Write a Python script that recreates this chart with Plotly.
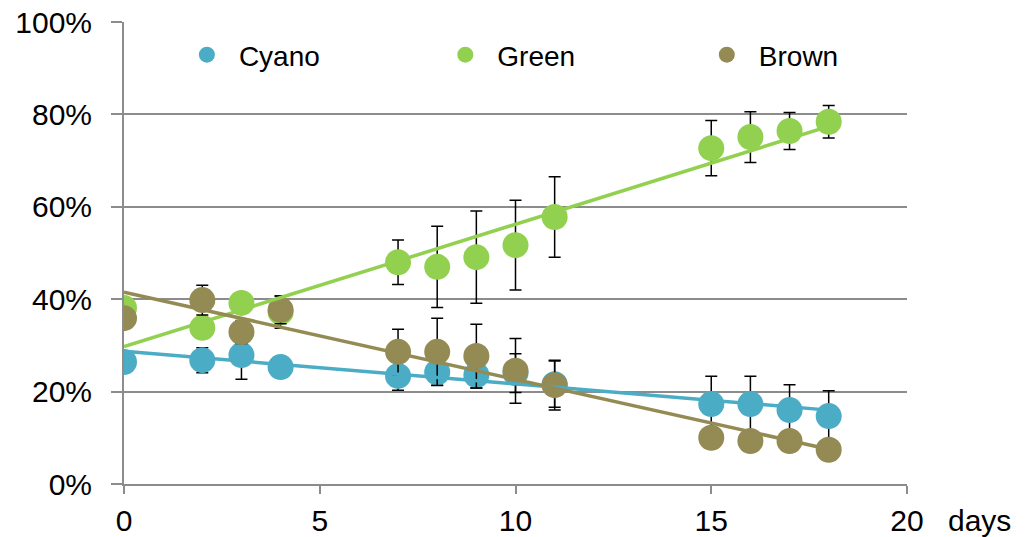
import numpy as np
import plotly.graph_objects as go

days = [0, 2, 3, 4, 7, 8, 9, 10, 11, 15, 16, 17, 18]
cyano = [26.4, 26.8, 27.9, 25.3, 23.4, 24.2, 23.6, 24.0, 21.6, 17.3, 17.3, 16.0, 14.7]
cyano_err = [1.5, 2.7, 5.2, 1.5, 3.1, 2.8, 2.8, 4.2, 5.0, 6.0, 6.0, 5.5, 5.5]
green = [38.1, 33.8, 39.2, 37.2, 48.0, 47.0, 49.1, 51.7, 57.8, 72.7, 75.1, 76.4, 78.4]
green_err = [1.5, 2.0, 2.0, 3.5, 4.8, 8.8, 10.0, 9.7, 8.7, 6.0, 5.5, 4.0, 3.5]
brown = [35.9, 39.8, 32.9, 37.7, 28.6, 28.6, 27.7, 24.5, 21.4, 10.0, 9.3, 9.3, 7.4]
brown_err = [1.5, 3.2, 2.5, 3.0, 4.9, 7.3, 6.9, 7.0, 5.4, 2.0, 2.0, 2.0, 2.0]

names = ["Cyano", "Green", "Brown"]
colors = ["#4BACC6", "#92D050", "#948A54"]
series = [cyano, green, brown]
errors = [cyano_err, green_err, brown_err]
legends = ["legend", "legend2", "legend3"]

FONT = "Liberation Sans, Arial, sans-serif"

fig = go.Figure()
for name, col, ys, es, lg in zip(names, colors, series, errors, legends):
    fig.add_trace(go.Scatter(
        x=days, y=ys, mode="markers", name=name, legend=lg,
        marker=dict(color=col, size=26, line=dict(width=0)),
        error_y=dict(type="data", array=es, visible=True, color="black",
                     thickness=1.5, width=6),
    ))

xs = np.array(days, dtype=float)
for name, col, ys in zip(names, colors, series):
    k, b = np.polyfit(xs, np.array(ys), 1)
    xl = np.array([xs.min(), xs.max()])
    fig.add_trace(go.Scatter(
        x=xl, y=k * xl + b, mode="lines", showlegend=False, hoverinfo="skip",
        line=dict(color=col, width=3.5),
    ))

leg_common = dict(orientation="h", yanchor="middle", y=0.9286, xanchor="left",
                  itemwidth=54, bgcolor="rgba(0,0,0,0)",
                  font=dict(family=FONT, size=28, color="black"))
fig.update_layout(
    width=1018, height=529,
    margin=dict(l=116, r=119, t=14, b=53, autoexpand=False),
    paper_bgcolor="white", plot_bgcolor="white",
    font=dict(family=FONT, size=30, color="black"),
    legend=dict(x=0.065, **leg_common),
    legend2=dict(x=0.395, **leg_common),
    legend3=dict(x=0.729, **leg_common),
    xaxis=dict(range=[0, 20], dtick=5, tick0=0, showgrid=False, zeroline=False,
               automargin=False, ticklabelstandoff=1, ticklabeloverflow="allow",
               showline=True, linecolor="#8c8c8c", linewidth=2,
               ticks="outside", ticklen=8, tickwidth=2, tickcolor="#8c8c8c",
               tickfont=dict(family=FONT, size=30, color="black")),
    yaxis=dict(range=[0, 100], dtick=20, tick0=0, ticksuffix="%",
               automargin=False, ticklabelstandoff=13, ticklabeloverflow="allow",
               showgrid=True, gridcolor="#8c8c8c", gridwidth=2, zeroline=False,
               showline=True, linecolor="#8c8c8c", linewidth=2,
               ticks="outside", ticklen=11, tickwidth=2, tickcolor="#8c8c8c",
               tickfont=dict(family=FONT, size=30, color="black")),
    annotations=[dict(text="days", xref="paper", yref="paper", x=1.093, y=-0.078,
                      xanchor="center", yanchor="middle", showarrow=False,
                      font=dict(family=FONT, size=30, color="black"))],
)

fig.write_html("out.html")
